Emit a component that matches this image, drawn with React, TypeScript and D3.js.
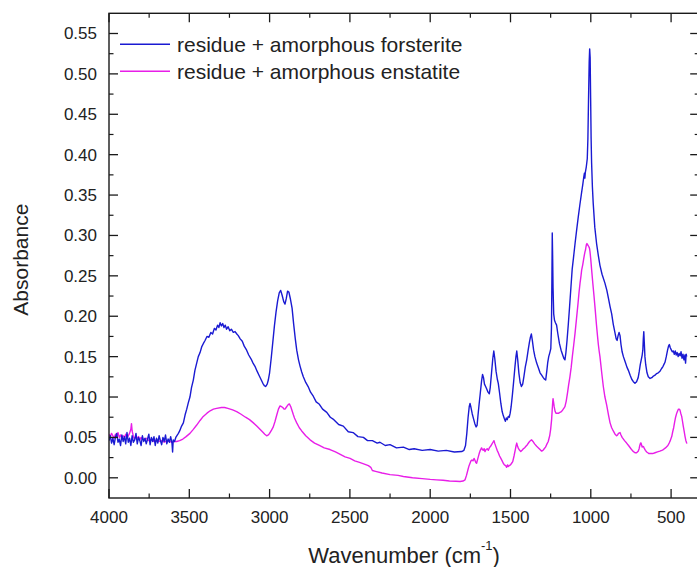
import React from "react";
import * as d3 from "d3";

// ---------- data ----------
const xMajorTicks = [4000, 3500, 3000, 2500, 2000, 1500, 1000, 500];
const xMinorTicks = [3750, 3250, 2750, 2250, 1750, 1250, 750];
const yMajorTicks = [0, 0.05, 0.1, 0.15, 0.2, 0.25, 0.3, 0.35, 0.4, 0.45, 0.5, 0.55];
const yMinorTicks = [0.025, 0.075, 0.125, 0.175, 0.225, 0.275, 0.325, 0.375, 0.425, 0.475, 0.525];
const seriesNames = ["residue + amorphous forsterite", "residue + amorphous enstatite"];

// [wavenumber, absorbance]
const forsterite: [number, number][] = [
  [4000, 0.046], [3992, 0.052], [3984, 0.043], [3976, 0.049], [3968, 0.041], [3960, 0.05],
  [3952, 0.055], [3944, 0.044], [3936, 0.048], [3928, 0.04], [3920, 0.053], [3912, 0.045],
  [3904, 0.051], [3896, 0.042], [3888, 0.056], [3880, 0.044], [3872, 0.049], [3864, 0.04],
  [3856, 0.052], [3848, 0.044], [3840, 0.047], [3832, 0.055], [3824, 0.042], [3816, 0.05],
  [3808, 0.046], [3800, 0.04], [3792, 0.052], [3784, 0.045], [3776, 0.049], [3768, 0.042],
  [3760, 0.048], [3752, 0.054], [3744, 0.041], [3736, 0.05], [3728, 0.045], [3720, 0.051],
  [3712, 0.04], [3704, 0.049], [3696, 0.043], [3688, 0.052], [3680, 0.046], [3672, 0.041],
  [3664, 0.05], [3656, 0.045], [3648, 0.053], [3640, 0.042], [3632, 0.048], [3624, 0.044],
  [3616, 0.051], [3608, 0.043], [3604, 0.032], [3600, 0.047], [3592, 0.045], [3584, 0.05],
  [3578, 0.052], [3568, 0.055], [3560, 0.058], [3548, 0.064], [3537, 0.068], [3526, 0.078],
  [3516, 0.085], [3506, 0.093], [3496, 0.1], [3486, 0.112], [3475, 0.121], [3465, 0.133],
  [3454, 0.142], [3444, 0.15], [3433, 0.155], [3423, 0.162], [3413, 0.166], [3402, 0.17],
  [3390, 0.175], [3378, 0.174], [3366, 0.18], [3355, 0.178], [3344, 0.185], [3334, 0.183],
  [3324, 0.189], [3316, 0.186], [3308, 0.192], [3300, 0.188], [3292, 0.191], [3284, 0.186],
  [3276, 0.189], [3268, 0.184], [3258, 0.187], [3248, 0.182], [3238, 0.184], [3226, 0.18],
  [3215, 0.181], [3204, 0.178], [3195, 0.176], [3183, 0.172], [3170, 0.169], [3158, 0.163],
  [3143, 0.158], [3130, 0.152], [3115, 0.147], [3103, 0.142], [3091, 0.138], [3078, 0.132],
  [3066, 0.127], [3054, 0.122], [3042, 0.117], [3033, 0.114], [3025, 0.113], [3015, 0.116],
  [3008, 0.121], [3000, 0.13], [2990, 0.148], [2980, 0.168], [2970, 0.188], [2960, 0.205],
  [2950, 0.219], [2940, 0.229], [2931, 0.232], [2922, 0.226], [2912, 0.218], [2904, 0.215],
  [2896, 0.222], [2888, 0.231], [2880, 0.23], [2870, 0.221], [2860, 0.21], [2850, 0.19],
  [2840, 0.172], [2831, 0.158], [2820, 0.146], [2810, 0.138], [2800, 0.131], [2790, 0.125],
  [2775, 0.118], [2760, 0.113], [2745, 0.106], [2728, 0.101], [2710, 0.094], [2690, 0.091],
  [2670, 0.085], [2644, 0.081], [2622, 0.075], [2600, 0.072], [2570, 0.066], [2541, 0.064],
  [2510, 0.057], [2480, 0.056], [2450, 0.051], [2416, 0.05], [2390, 0.046], [2360, 0.046],
  [2330, 0.043], [2313, 0.044], [2280, 0.04], [2250, 0.041], [2210, 0.037], [2167, 0.038],
  [2130, 0.035], [2100, 0.036], [2050, 0.034], [2000, 0.035], [1950, 0.033], [1900, 0.034],
  [1850, 0.032], [1804, 0.0325], [1790, 0.034], [1780, 0.04], [1772, 0.055], [1764, 0.075],
  [1757, 0.088], [1752, 0.092], [1746, 0.087], [1738, 0.079], [1730, 0.073], [1722, 0.067],
  [1714, 0.063], [1708, 0.065], [1702, 0.078], [1695, 0.092], [1688, 0.105], [1680, 0.12],
  [1674, 0.128], [1668, 0.124], [1662, 0.116], [1655, 0.113], [1648, 0.11], [1640, 0.106],
  [1632, 0.104], [1626, 0.112], [1618, 0.13], [1610, 0.148], [1604, 0.157], [1598, 0.148],
  [1590, 0.132], [1582, 0.122], [1576, 0.117], [1568, 0.105], [1560, 0.092], [1552, 0.082],
  [1545, 0.077], [1538, 0.073], [1532, 0.07], [1526, 0.074], [1520, 0.072], [1514, 0.076],
  [1508, 0.075], [1502, 0.08], [1496, 0.088], [1488, 0.103], [1480, 0.12], [1472, 0.138],
  [1466, 0.15], [1461, 0.157], [1455, 0.146], [1448, 0.13], [1440, 0.118], [1432, 0.113],
  [1424, 0.116], [1416, 0.126], [1408, 0.137], [1399, 0.146], [1390, 0.158], [1382, 0.168],
  [1376, 0.174], [1370, 0.178], [1364, 0.17], [1356, 0.158], [1348, 0.15], [1337, 0.142],
  [1326, 0.136], [1316, 0.13], [1306, 0.127], [1296, 0.124], [1288, 0.122], [1281, 0.121],
  [1274, 0.132], [1268, 0.143], [1262, 0.15], [1255, 0.155], [1249, 0.16], [1245, 0.185],
  [1242, 0.25], [1240, 0.303], [1238, 0.28], [1235, 0.235], [1231, 0.203], [1226, 0.195],
  [1220, 0.192], [1213, 0.189], [1205, 0.178], [1195, 0.166], [1185, 0.158], [1175, 0.152],
  [1168, 0.148], [1161, 0.146], [1155, 0.155], [1148, 0.17], [1140, 0.19], [1132, 0.212],
  [1124, 0.235], [1116, 0.258], [1108, 0.272], [1098, 0.29], [1088, 0.307], [1078, 0.323],
  [1068, 0.338], [1058, 0.352], [1050, 0.363], [1044, 0.372], [1040, 0.377], [1037, 0.371],
  [1034, 0.378], [1028, 0.385], [1022, 0.395], [1018, 0.42], [1014, 0.47], [1010, 0.515],
  [1007, 0.531], [1004, 0.52], [1001, 0.47], [998, 0.42], [995, 0.39], [990, 0.36],
  [985, 0.34], [975, 0.31], [964, 0.29], [953, 0.275], [943, 0.263], [930, 0.252],
  [912, 0.241], [900, 0.232], [890, 0.222], [880, 0.212], [870, 0.203], [860, 0.19],
  [850, 0.18], [842, 0.172], [836, 0.17], [830, 0.176], [824, 0.18], [818, 0.176],
  [812, 0.165], [805, 0.156], [797, 0.15], [785, 0.143], [775, 0.137], [766, 0.133],
  [755, 0.127], [745, 0.122], [735, 0.119], [725, 0.117], [715, 0.119], [705, 0.124],
  [698, 0.132], [692, 0.14], [685, 0.147], [680, 0.152], [676, 0.158], [673, 0.172],
  [670, 0.181], [667, 0.168], [663, 0.15], [658, 0.14], [650, 0.13], [642, 0.125],
  [631, 0.123], [620, 0.124], [610, 0.126], [600, 0.127], [590, 0.129], [580, 0.13],
  [569, 0.132], [560, 0.135], [550, 0.138], [543, 0.141], [538, 0.143], [530, 0.15],
  [522, 0.158], [516, 0.163], [511, 0.165], [505, 0.161], [498, 0.158], [492, 0.156],
  [486, 0.157], [480, 0.153], [474, 0.157], [468, 0.152], [462, 0.155], [456, 0.15],
  [450, 0.154], [444, 0.151], [438, 0.156], [432, 0.148], [426, 0.153], [420, 0.146],
  [414, 0.152], [410, 0.142], [406, 0.153], [403, 0.15],
];

const enstatite: [number, number][] = [
  [4000, 0.054], [3992, 0.051], [3984, 0.055], [3976, 0.052], [3968, 0.049], [3960, 0.054],
  [3952, 0.051], [3944, 0.056], [3936, 0.05], [3928, 0.053], [3920, 0.049], [3912, 0.052],
  [3904, 0.05], [3896, 0.054], [3888, 0.049], [3880, 0.052], [3872, 0.055], [3864, 0.06],
  [3860, 0.067], [3856, 0.058], [3848, 0.051], [3840, 0.048], [3832, 0.052], [3824, 0.049],
  [3816, 0.051], [3808, 0.047], [3800, 0.05], [3784, 0.047], [3768, 0.049], [3752, 0.046],
  [3736, 0.048], [3720, 0.045], [3704, 0.047], [3688, 0.045], [3672, 0.046], [3656, 0.044],
  [3640, 0.046], [3624, 0.045], [3608, 0.044], [3592, 0.045], [3578, 0.045], [3560, 0.046],
  [3540, 0.048], [3520, 0.051], [3496, 0.055], [3475, 0.06], [3455, 0.065], [3433, 0.071],
  [3413, 0.076], [3390, 0.08], [3370, 0.083], [3350, 0.085], [3330, 0.086], [3300, 0.087],
  [3280, 0.087], [3260, 0.086], [3230, 0.084], [3205, 0.082], [3180, 0.079], [3150, 0.075],
  [3125, 0.072], [3101, 0.068], [3080, 0.064], [3060, 0.06], [3040, 0.056], [3030, 0.054],
  [3018, 0.052], [3008, 0.053], [3000, 0.055], [2988, 0.059], [2977, 0.063], [2966, 0.07],
  [2955, 0.078], [2945, 0.085], [2935, 0.089], [2926, 0.088], [2918, 0.087], [2910, 0.085],
  [2904, 0.085], [2897, 0.087], [2890, 0.089], [2883, 0.091], [2877, 0.0915], [2868, 0.088],
  [2860, 0.083], [2852, 0.078], [2845, 0.074], [2838, 0.071], [2831, 0.068], [2815, 0.062],
  [2800, 0.058], [2775, 0.052], [2748, 0.047], [2720, 0.043], [2690, 0.04], [2660, 0.037],
  [2624, 0.035], [2590, 0.032], [2560, 0.029], [2530, 0.026], [2499, 0.024], [2470, 0.021],
  [2440, 0.019], [2410, 0.017], [2385, 0.015], [2370, 0.013], [2360, 0.009], [2340, 0.008],
  [2300, 0.006], [2250, 0.004], [2200, 0.003], [2167, 0.0016], [2110, 0.0], [2050, -0.001],
  [2000, -0.002], [1960, -0.0025], [1920, -0.003], [1880, -0.004], [1840, -0.0042],
  [1814, -0.0046], [1796, -0.004], [1783, -0.0025], [1774, 0.003], [1765, 0.01],
  [1758, 0.015], [1752, 0.018], [1746, 0.021], [1740, 0.022], [1733, 0.021], [1727, 0.024],
  [1722, 0.022], [1716, 0.019], [1711, 0.018], [1703, 0.024], [1695, 0.03], [1688, 0.034],
  [1680, 0.037], [1675, 0.035], [1670, 0.034], [1664, 0.036], [1659, 0.0325], [1652, 0.035],
  [1645, 0.036], [1638, 0.034], [1632, 0.037], [1624, 0.039], [1615, 0.042], [1609, 0.044],
  [1603, 0.046], [1597, 0.042], [1590, 0.038], [1583, 0.034], [1576, 0.031], [1568, 0.027],
  [1560, 0.024], [1552, 0.021], [1545, 0.018], [1538, 0.016], [1530, 0.015], [1524, 0.013],
  [1518, 0.016], [1514, 0.014], [1508, 0.015], [1500, 0.016], [1493, 0.018], [1486, 0.02],
  [1478, 0.027], [1470, 0.035], [1465, 0.04], [1461, 0.043], [1456, 0.039], [1450, 0.036],
  [1443, 0.034], [1436, 0.0325], [1428, 0.034], [1420, 0.036], [1412, 0.037], [1404, 0.039],
  [1395, 0.041], [1385, 0.044], [1376, 0.046], [1368, 0.047], [1360, 0.045], [1350, 0.042],
  [1337, 0.039], [1326, 0.037], [1316, 0.035], [1306, 0.033], [1298, 0.034], [1290, 0.036],
  [1282, 0.038], [1275, 0.041], [1265, 0.045], [1256, 0.052], [1250, 0.06], [1244, 0.072],
  [1240, 0.085], [1237, 0.094], [1235, 0.098], [1232, 0.094], [1228, 0.088], [1222, 0.082],
  [1217, 0.08], [1208, 0.08], [1200, 0.08], [1192, 0.081], [1183, 0.082], [1175, 0.084],
  [1168, 0.086], [1161, 0.088], [1153, 0.095], [1145, 0.105], [1138, 0.115], [1130, 0.125],
  [1122, 0.137], [1115, 0.15], [1106, 0.165], [1098, 0.179], [1089, 0.197], [1080, 0.215],
  [1073, 0.23], [1067, 0.241], [1061, 0.25], [1057, 0.257], [1050, 0.264], [1045, 0.27],
  [1040, 0.276], [1036, 0.28], [1033, 0.282], [1030, 0.286], [1027, 0.289], [1024, 0.29],
  [1021, 0.289], [1018, 0.288], [1012, 0.286], [1008, 0.284], [1005, 0.28], [1000, 0.27],
  [995, 0.258], [988, 0.242], [980, 0.225], [972, 0.207], [965, 0.19], [958, 0.175],
  [953, 0.165], [948, 0.157], [943, 0.15], [932, 0.13], [922, 0.113], [912, 0.1],
  [901, 0.09], [890, 0.078], [880, 0.068], [870, 0.062], [860, 0.058], [849, 0.054],
  [839, 0.052], [833, 0.053], [828, 0.055], [818, 0.056], [812, 0.053], [805, 0.05],
  [790, 0.046], [777, 0.043], [765, 0.04], [750, 0.036], [738, 0.033], [725, 0.031],
  [715, 0.031], [705, 0.033], [699, 0.036], [695, 0.04], [690, 0.043], [687, 0.043],
  [683, 0.04], [680, 0.038], [676, 0.039], [672, 0.0387], [666, 0.036], [660, 0.034],
  [652, 0.032], [645, 0.031], [638, 0.03], [631, 0.03], [615, 0.03], [600, 0.031],
  [585, 0.032], [570, 0.033], [558, 0.034], [548, 0.035], [535, 0.037], [520, 0.04],
  [512, 0.043], [505, 0.046], [500, 0.049], [496, 0.051], [490, 0.057], [484, 0.062],
  [478, 0.069], [472, 0.075], [465, 0.08], [459, 0.083], [454, 0.085], [449, 0.085],
  [445, 0.084], [440, 0.08], [434, 0.076], [429, 0.07], [425, 0.065], [419, 0.058],
  [413, 0.051], [408, 0.046], [403, 0.043], [399, 0.043],
];

// ---------- chart ----------
const W = 697;
const H = 567;
const FONT = "Arial, 'Liberation Sans', Helvetica, sans-serif";

export default function App() {
  const x = d3.scaleLinear().domain([4000, 325]).range([109, 699.2]);
  const y = d3.scaleLinear().domain([-0.025, 0.575]).range([498, 13.3]);
  const [x0, x1] = x.range();
  const [y0, y1] = y.range();

  const line = d3
    .line<[number, number]>()
    .x((d) => x(d[0]))
    .y((d) => y(d[1]));

  const fmt = d3.format(".2f");
  const series = [
    { name: seriesNames[0], data: forsterite, color: "#1a1ad2" },
    { name: seriesNames[1], data: enstatite, color: "#e81ee8" },
  ];

  const major = 9;
  const minor = 4.5;
  const axisColor = "#1a1a1a";

  return (
    <div style={{ position: "absolute", left: 0, top: 0 }}>
      <style>{`body{margin:0}`}</style>
      <svg width={W} height={H} style={{ display: "block", background: "#fff" }}>
        <defs>
          <clipPath id="plot">
            <rect x={x0} y={y1} width={x1 - x0} height={y0 - y1} />
          </clipPath>
        </defs>

        {/* series */}
        <g clipPath="url(#plot)">
          {series
            .slice()
            .reverse()
            .map((s) => (
              <path
                key={s.name}
                d={line(s.data) || ""}
                fill="none"
                stroke={s.color}
                strokeWidth={1.4}
                strokeLinejoin="round"
              />
            ))}
        </g>

        {/* frame */}
        <rect
          x={x0}
          y={y1}
          width={x1 - x0}
          height={y0 - y1}
          fill="none"
          stroke={axisColor}
          strokeWidth={1.4}
        />

        {/* x ticks */}
        {xMajorTicks.map((t) => (
          <g key={"xM" + t}>
            <line x1={x(t)} x2={x(t)} y1={y0} y2={y0 - major} stroke={axisColor} strokeWidth={1.3} />
            <line x1={x(t)} x2={x(t)} y1={y1} y2={y1 + major} stroke={axisColor} strokeWidth={1.3} />
            <text
              x={x(t)}
              y={523}
              textAnchor="middle"
              fontFamily={FONT}
              fontSize={17}
              fill="#222"
            >
              {t}
            </text>
          </g>
        ))}
        {xMinorTicks.map((t) => (
          <g key={"xm" + t}>
            <line x1={x(t)} x2={x(t)} y1={y0} y2={y0 - minor} stroke={axisColor} strokeWidth={1.2} />
            <line x1={x(t)} x2={x(t)} y1={y1} y2={y1 + minor} stroke={axisColor} strokeWidth={1.2} />
          </g>
        ))}

        {/* y ticks */}
        {yMajorTicks.map((t) => (
          <g key={"yM" + t}>
            <line x1={x0} x2={x0 + major} y1={y(t)} y2={y(t)} stroke={axisColor} strokeWidth={1.3} />
            <line x1={x1} x2={x1 - major} y1={y(t)} y2={y(t)} stroke={axisColor} strokeWidth={1.3} />
            <text
              x={97}
              y={y(t) + 6}
              textAnchor="end"
              fontFamily={FONT}
              fontSize={17}
              fill="#222"
            >
              {fmt(t)}
            </text>
          </g>
        ))}
        {yMinorTicks.map((t) => (
          <g key={"ym" + t}>
            <line x1={x0} x2={x0 + minor} y1={y(t)} y2={y(t)} stroke={axisColor} strokeWidth={1.2} />
            <line x1={x1} x2={x1 - minor} y1={y(t)} y2={y(t)} stroke={axisColor} strokeWidth={1.2} />
          </g>
        ))}

        {/* axis titles */}
        <text
          x={(x0 + 699.2) / 2}
          y={563}
          textAnchor="middle"
          fontFamily={FONT}
          fontSize={22}
          fill="#222"
        >
          Wavenumber (cm
          <tspan fontSize={13} dy={-13}>
            -1
          </tspan>
          <tspan dy={13}>)</tspan>
        </text>
        <text
          transform={`translate(28, ${(y0 + y1) / 2 + 4}) rotate(-90)`}
          textAnchor="middle"
          fontFamily={FONT}
          fontSize={21}
          fill="#222"
        >
          Absorbance
        </text>

        {/* legend */}
        {series.map((s, i) => {
          const ly = 44.3 + i * 27;
          return (
            <g key={"lg" + i}>
              <line x1={120} x2={170} y1={ly} y2={ly} stroke={s.color} strokeWidth={1.5} />
              <text x={177} y={ly + 7.5} fontFamily={FONT} fontSize={21} fill="#222">
                {s.name}
              </text>
            </g>
          );
        })}
      </svg>
    </div>
  );
}
